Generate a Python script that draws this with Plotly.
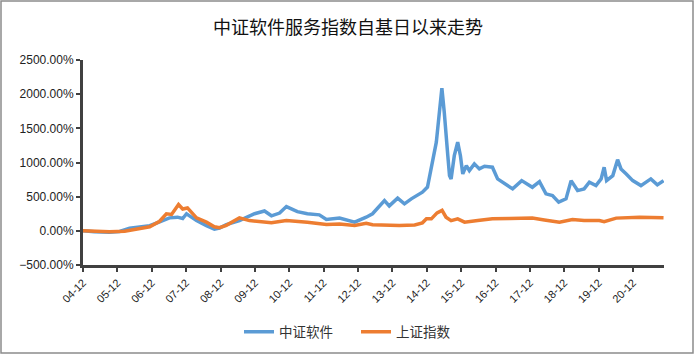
import plotly.graph_objects as go

# 中证软件 (blue) — date, cumulative return in %
soft_dates = [
    "2004-12-31", "2005-05-01", "2005-10-08", "2006-01-25", "2006-05-10", "2006-08-25",
    "2006-12-10", "2007-03-25", "2007-07-08", "2007-10-01", "2007-11-25", "2008-01-05",
    "2008-02-28", "2008-04-20", "2008-08-03", "2008-10-27", "2008-12-20", "2009-03-03",
    "2009-07-20", "2009-12-28", "2010-04-12", "2010-06-25", "2010-09-20", "2010-12-01",
    "2011-03-28", "2011-07-12", "2011-11-16", "2012-01-30", "2012-06-18", "2012-11-25",
    "2013-03-28", "2013-06-03", "2013-10-08", "2013-11-28", "2014-02-25", "2014-05-08",
    "2014-07-20", "2014-11-15", "2015-01-08", "2015-02-18", "2015-04-12", "2015-05-15",
    "2015-06-10", "2015-07-05", "2015-07-24", "2015-08-12", "2015-08-30", "2015-09-16",
    "2015-10-20", "2015-11-25", "2015-12-24", "2016-01-18", "2016-02-25", "2016-03-28",
    "2016-05-20", "2016-07-12", "2016-09-05", "2016-11-28", "2017-01-22", "2017-05-08",
    "2017-07-01", "2017-10-05", "2017-12-06", "2018-01-26", "2018-04-12", "2018-06-20",
    "2018-08-28", "2018-11-02", "2019-01-19", "2019-03-14", "2019-05-22", "2019-07-30",
    "2019-09-24", "2019-12-03", "2020-01-27", "2020-02-28", "2020-03-25", "2020-05-30",
    "2020-07-20", "2020-08-25", "2020-10-20", "2020-12-28", "2021-03-25", "2021-07-08",
    "2021-09-15", "2021-11-20",
]
soft_values = [
    0, -15, -20, -10, 40, 60,
    75, 130, 190, 200, 180, 250,
    200, 150, 77, 25, 40, 90,
    150, 250, 290, 220, 260, 355,
    280, 250, 234, 165, 186, 127,
    200, 250, 443, 365, 478, 395,
    468, 565, 640, 930, 1297, 1740,
    2086, 1740, 1345, 1100, 808, 760,
    1100, 1297, 1100, 833, 955, 882,
    980, 906, 946, 931, 760, 662,
    614, 735, 673, 638, 721, 541,
    516, 420, 468, 735, 589, 614,
    712, 662, 760, 931, 735, 808,
    1042, 906, 833, 735, 662, 760,
    673, 735,
]

# 上证指数 (orange)
sh_dates = [
    "2004-12-31", "2005-05-01", "2005-10-08", "2006-03-18", "2006-07-01", "2006-12-10",
    "2007-03-25", "2007-06-05", "2007-07-30", "2007-10-12", "2007-11-25", "2008-01-15",
    "2008-04-20", "2008-08-03", "2008-10-27", "2008-12-20", "2009-03-03", "2009-07-20",
    "2009-11-03", "2010-04-12", "2010-06-25", "2010-12-01", "2011-07-12", "2012-01-30",
    "2012-06-18", "2012-11-25", "2013-03-28", "2013-06-03", "2013-10-08", "2014-03-15",
    "2014-08-25", "2014-11-15", "2014-12-28", "2015-02-18", "2015-04-20", "2015-06-12",
    "2015-07-24", "2015-09-16", "2015-11-25", "2016-02-06", "2016-06-25", "2016-11-28",
    "2017-05-30", "2018-01-26", "2018-06-03", "2018-11-10", "2019-03-28", "2019-07-30",
    "2020-01-08", "2020-02-28", "2020-07-05", "2021-03-10", "2021-11-20",
]
sh_values = [
    0, -10, -15, -5, 20, 60,
    140, 250, 240, 385, 320, 335,
    190, 127, 60, 45, 80, 190,
    150, 135, 117, 150, 127, 92,
    100, 77, 112, 90, 80, 77,
    85, 117, 175, 175, 263, 300,
    200, 150, 175, 127, 150, 175,
    180, 186, 160, 127, 165, 150,
    150, 135, 186, 200, 190,
]

tick_dates = [f"{y}-12-31" for y in range(2004, 2021)]

BLUE = "#5B9BD5"
ORANGE = "#ED7D31"
AXIS = "#404040"

fig = go.Figure()
fig.add_trace(go.Scatter(x=soft_dates, y=soft_values, mode="lines", name="中证软件",
                         line=dict(color=BLUE, width=3.5)))
fig.add_trace(go.Scatter(x=sh_dates, y=sh_values, mode="lines", name="上证指数",
                         line=dict(color=ORANGE, width=3.5)))

W, H = 696, 356
L, R, T, B = 83, 32, 60, 91
pw, ph = W - L - R, H - T - B

def px(xp):
    return (xp - L) / pw

def py(yp):
    return (H - B - yp) / ph

fig.update_layout(
    width=W, height=H,
    margin=dict(l=L, r=R, t=T, b=B, autoexpand=False),
    paper_bgcolor="white", plot_bgcolor="white",
    title=dict(text="中证软件服务指数自基日以来走势", x=0.5, xanchor="center",
               y=1 - 28 / H, yanchor="middle",
               font=dict(family="Noto Sans CJK SC", size=18, color="#111111")),
    showlegend=True,
    legend=dict(orientation="h", x=px(356), xanchor="center", y=py(332), yanchor="middle",
                font=dict(family="Noto Sans CJK SC", size=13.5, color="#333333"),
                itemwidth=30, entrywidth=72, bgcolor="rgba(0,0,0,0)"),
    xaxis=dict(type="date", range=["2004-12-31", "2021-11-25"], automargin=False,
               tickvals=tick_dates, tickformat="%y-%m", tickangle=-45,
               showgrid=False, zeroline=False,
               showline=True, linecolor=AXIS, linewidth=3,
               ticks="outside", ticklen=4, tickwidth=2, tickcolor=AXIS,
               tickfont=dict(family="Liberation Sans", size=11, color="#222222")),
    yaxis=dict(range=[-500, 2500], dtick=500, tick0=0, tickformat=".2f", ticksuffix="%",
               automargin=False,
               showgrid=False, zeroline=False,
               showline=True, linecolor=AXIS, linewidth=3,
               ticks="outside", ticklen=4, tickwidth=2, tickcolor=AXIS,
               tickfont=dict(family="Liberation Sans", size=12, color="#222222")),
    shapes=[dict(type="rect", xref="paper", yref="paper",
                 x0=px(1), x1=px(693), y0=py(353), y1=py(1),
                 line=dict(color="#8c8c8c", width=1.5), fillcolor="rgba(0,0,0,0)", layer="below")],
)

fig.write_html("out.html", config={"displayModeBar": False},
               post_script="document.body.style.margin='0';")
